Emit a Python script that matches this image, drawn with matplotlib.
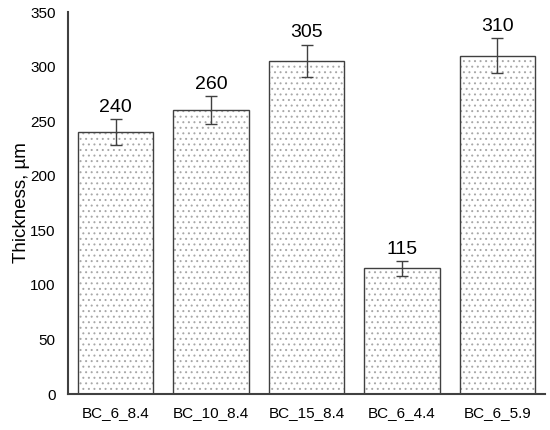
import matplotlib
matplotlib.use("Agg")
import matplotlib.pyplot as plt

samples = ["BC_6_8.4", "BC_10_8.4", "BC_15_8.4", "BC_6_4.4", "BC_6_5.9"]
thickness = [240, 260, 305, 115, 310]
errors = [12, 13, 15, 7, 16]

plt.rcParams["font.family"] = ["Liberation Sans", "DejaVu Sans"]
plt.rcParams["hatch.linewidth"] = 0.7
plt.rcParams["hatch.color"] = "#a8a8a8"

fig = plt.figure(figsize=(5.5, 4.3), dpi=100)
ax = fig.add_axes([68 / 550, 36 / 430, 477 / 550, 382 / 430])

x = list(range(len(samples)))
# dotted fill, then dark outline on top
ax.bar(x, thickness, width=0.79, color="white", edgecolor="#a8a8a8",
       linewidth=0, hatch="...")
ax.bar(x, thickness, width=0.79, fill=False, edgecolor="#404040", linewidth=1.0)
ax.errorbar(x, thickness, yerr=errors, fmt="none", ecolor="#404040",
            elinewidth=1.0, capsize=4, capthick=1.0)

for xi, v, e in zip(x, thickness, errors):
    ax.text(xi, v + e + 3, f"{v}", ha="center", va="bottom", fontsize=14)

ax.set_xlim(-0.5, 4.5)
ax.set_ylim(0, 350)
ax.set_yticks(range(0, 351, 50))
ax.set_xticks(x)
ax.set_xticklabels(samples, fontsize=11)
ax.tick_params(axis="y", labelsize=11, length=0, pad=9)
ax.tick_params(axis="x", length=0, pad=9)
ax.set_ylabel("Thickness, µm", fontsize=13.5, labelpad=0)

for side in ["top", "right"]:
    ax.spines[side].set_visible(False)
for side in ["left", "bottom"]:
    ax.spines[side].set_color("#404040")
    ax.spines[side].set_linewidth(1.5)

fig.savefig("out.png", dpi=100)
